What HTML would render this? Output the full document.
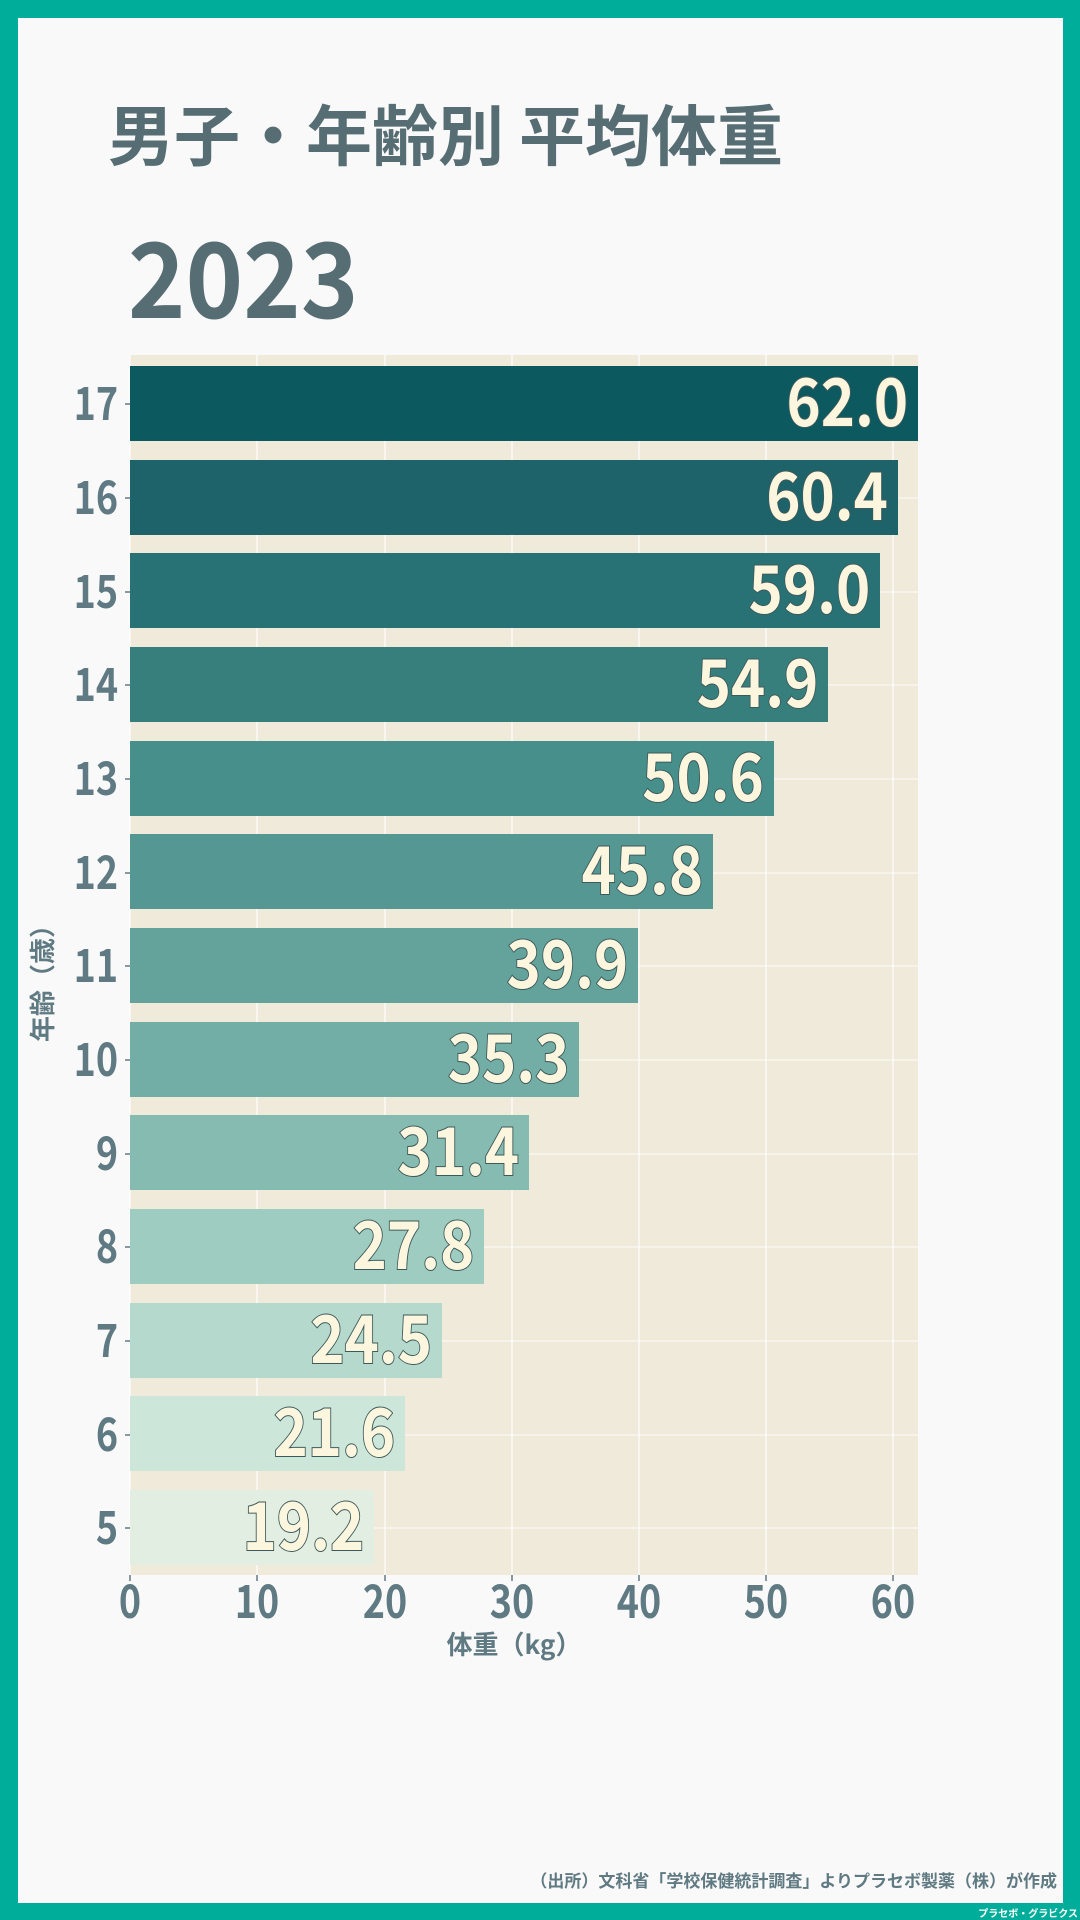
<!DOCTYPE html>
<html><head><meta charset="utf-8"><style>
html,body{margin:0;padding:0}
body{width:1080px;height:1920px;overflow:hidden;background:#00ad9a}
svg{display:block}
</style></head><body>
<svg width="1080" height="1920" xmlns="http://www.w3.org/2000/svg" font-family="'Noto Sans CJK JP','Liberation Sans',sans-serif">
<rect x="0" y="0" width="1080" height="1920" fill="#00ad9a"/>
<rect x="18" y="18" width="1045" height="1885" fill="#f9f9f9"/>
<text x="108" y="160" font-size="66" font-weight="bold" fill="#566d73">男子・年齢別 平均体重</text>
<g transform="scale(0.94,1)"><text x="136" y="318" font-size="104" font-weight="bold" fill="#566d73">2023</text></g>
<rect x="130" y="355" width="788" height="1220" fill="#f0eadb"/>
<g stroke="#ffffff" stroke-width="1.5" opacity="0.8">
<line x1="130" y1="355" x2="130" y2="1575"/><line x1="257" y1="355" x2="257" y2="1575"/><line x1="385" y1="355" x2="385" y2="1575"/><line x1="512" y1="355" x2="512" y2="1575"/><line x1="639" y1="355" x2="639" y2="1575"/><line x1="766" y1="355" x2="766" y2="1575"/><line x1="893" y1="355" x2="893" y2="1575"/>
</g>
<g stroke="#ffffff" stroke-width="1.5" opacity="0.6">
<line x1="130" y1="404" x2="918" y2="404"/><line x1="130" y1="498" x2="918" y2="498"/><line x1="130" y1="592" x2="918" y2="592"/><line x1="130" y1="685" x2="918" y2="685"/><line x1="130" y1="779" x2="918" y2="779"/><line x1="130" y1="873" x2="918" y2="873"/><line x1="130" y1="966" x2="918" y2="966"/><line x1="130" y1="1060" x2="918" y2="1060"/><line x1="130" y1="1154" x2="918" y2="1154"/><line x1="130" y1="1247" x2="918" y2="1247"/><line x1="130" y1="1341" x2="918" y2="1341"/><line x1="130" y1="1435" x2="918" y2="1435"/><line x1="130" y1="1528" x2="918" y2="1528"/>
</g>
<g>
<rect x="130" y="366" width="788" height="75" fill="#0d5960"/>
<rect x="130" y="460" width="768" height="75" fill="#1d6369"/>
<rect x="130" y="553" width="750" height="75" fill="#287275"/>
<rect x="130" y="647" width="698" height="75" fill="#377f7c"/>
<rect x="130" y="741" width="644" height="75" fill="#468f8b"/>
<rect x="130" y="834" width="583" height="75" fill="#559792"/>
<rect x="130" y="928" width="508" height="75" fill="#64a39c"/>
<rect x="130" y="1022" width="449" height="75" fill="#73aea6"/>
<rect x="130" y="1115" width="399" height="75" fill="#86bbb2"/>
<rect x="130" y="1209" width="354" height="75" fill="#9fccc1"/>
<rect x="130" y="1303" width="312" height="75" fill="#b5d9cd"/>
<rect x="130" y="1396" width="275" height="75" fill="#cde6da"/>
<rect x="130" y="1490" width="244" height="75" fill="#e3eee2"/>
</g>
<g transform="scale(0.88,1)" font-size="66" font-weight="bold" fill="#fdf6df" stroke="#3d5a5a" stroke-width="2" text-anchor="end" paint-order="stroke">
<text x="1032" y="426">62.0</text>
<text x="1009" y="520">60.4</text>
<text x="989" y="613">59.0</text>
<text x="930" y="707">54.9</text>
<text x="868" y="801">50.6</text>
<text x="799" y="894">45.8</text>
<text x="714" y="988">39.9</text>
<text x="647" y="1082">35.3</text>
<text x="590" y="1175">31.4</text>
<text x="539" y="1269">27.8</text>
<text x="491" y="1363">24.5</text>
<text x="449" y="1456">21.6</text>
<text x="414" y="1550">19.2</text>
</g>
<g stroke="#5f7a82" stroke-width="1.5">
<line x1="125" y1="404" x2="130" y2="404"/><line x1="125" y1="498" x2="130" y2="498"/><line x1="125" y1="592" x2="130" y2="592"/><line x1="125" y1="685" x2="130" y2="685"/><line x1="125" y1="779" x2="130" y2="779"/><line x1="125" y1="873" x2="130" y2="873"/><line x1="125" y1="966" x2="130" y2="966"/><line x1="125" y1="1060" x2="130" y2="1060"/><line x1="125" y1="1154" x2="130" y2="1154"/><line x1="125" y1="1247" x2="130" y2="1247"/><line x1="125" y1="1341" x2="130" y2="1341"/><line x1="125" y1="1435" x2="130" y2="1435"/><line x1="125" y1="1528" x2="130" y2="1528"/>
<line x1="130" y1="1575" x2="130" y2="1581"/><line x1="257" y1="1575" x2="257" y2="1581"/><line x1="385" y1="1575" x2="385" y2="1581"/><line x1="512" y1="1575" x2="512" y2="1581"/><line x1="639" y1="1575" x2="639" y2="1581"/><line x1="766" y1="1575" x2="766" y2="1581"/><line x1="893" y1="1575" x2="893" y2="1581"/>
</g>
<g transform="scale(0.82,1)" font-size="46" font-weight="bold" fill="#5f7a82" text-anchor="end">
<text x="144" y="420">17</text><text x="144" y="514">16</text><text x="144" y="608">15</text><text x="144" y="701">14</text><text x="144" y="795">13</text><text x="144" y="889">12</text><text x="144" y="982">11</text><text x="144" y="1076">10</text><text x="144" y="1170">9</text><text x="144" y="1263">8</text><text x="144" y="1357">7</text><text x="144" y="1451">6</text><text x="144" y="1544">5</text>
</g>
<g transform="scale(0.82,1)" font-size="46" font-weight="bold" fill="#5f7a82" text-anchor="middle">
<text x="158.5" y="1618">0</text><text x="313.4" y="1618">10</text><text x="469.5" y="1618">20</text><text x="624.4" y="1618">30</text><text x="779.3" y="1618">40</text><text x="934.1" y="1618">50</text><text x="1089" y="1618">60</text>
</g>
<text x="514" y="1654" font-size="26" font-weight="bold" fill="#5f7a82" text-anchor="middle">体重（kg）</text>
<text transform="translate(52,977) rotate(-90)" font-size="26" font-weight="bold" fill="#5f7a82" text-anchor="middle">年齢（歳）</text>
<text x="1057" y="1887" font-size="17" font-weight="bold" fill="#5f7a82" text-anchor="end">（出所）文科省「学校保健統計調査」よりプラセボ製薬（株）が作成</text>
<text x="1078" y="1917" font-size="10" font-weight="bold" fill="#ffffff" text-anchor="end">プラセボ・グラビクス</text>
</svg>
</body></html>
